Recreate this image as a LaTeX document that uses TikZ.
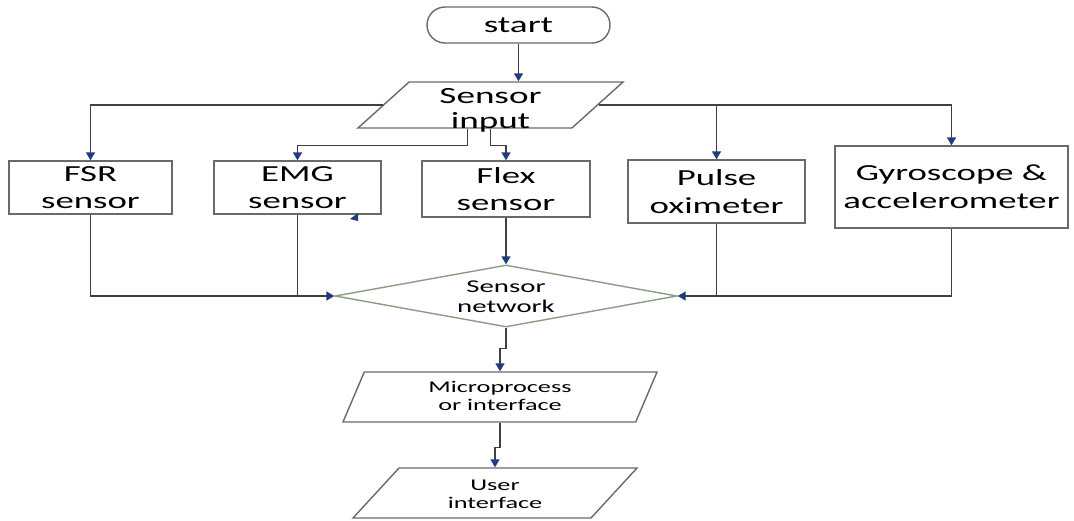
\documentclass[tikz,border=0pt]{standalone}
\usepackage{fontspec}
\setmainfont{Carlito}[FakeStretch=1.6]
\usetikzlibrary{shapes.geometric,arrows.meta}
\definecolor{navy}{HTML}{1F3C80}
\definecolor{linegray}{HTML}{404040}
\definecolor{boxgray}{HTML}{6A6A6A}
\definecolor{diagreen}{HTML}{8C9C84}
\begin{document}
\begin{tikzpicture}[x=0.5pt,y=-0.5pt,
	box/.style={draw=boxgray, line width=0.7pt, align=center, inner sep=0pt, font=\fontsize{11.5}{13.8}\selectfont},
	para/.style={box, trapezium, trapezium left angle=#1, trapezium right angle={180-#1}, trapezium stretches body},
	conn/.style={draw=linegray, line width=0.75pt, -{Triangle[length=4pt,width=4.5pt,color=navy]}},
	link/.style={draw=linegray, line width=0.75pt}]
	\useasboundingbox [fill=white] (0,0) rectangle (1074,520);
	% Shapes
	\node [box, rounded corners=9pt, minimum width=91.5pt, minimum height=18pt, font=\fontsize{11.6}{13}\selectfont] (start) at (518.5,25) {start};
	\node [para=42, minimum width=132.5pt, minimum height=23pt, text height=23pt, text depth=0pt, font=\fontsize{11.6}{12.5}\selectfont] (in) at (490.5,105) {Sensor\\input};
	\node [box, minimum width=81.5pt, minimum height=26.5pt] (fsr) at (90.5,187.5) {FSR\\sensor};
	\node [box, minimum width=83.5pt, minimum height=26.5pt] (emg) at (297.5,187.5) {EMG\\sensor};
	\node [box, minimum width=84pt, minimum height=28pt] (flex) at (506,189) {Flex\\sensor};
	\node [box, minimum width=88.5pt, minimum height=31.5pt] (pulse) at (716.5,191.5) {Pulse\\oximeter};
	\node [box, minimum width=116.5pt, minimum height=41pt] (gyro) at (951.5,187) {Gyroscope \&\\accelerometer};
	\node [box, draw=diagreen, diamond, aspect=5.5, minimum width=171pt, minimum height=31pt, text height=18pt, text depth=2pt, font=\fontsize{9}{10}\selectfont] (net) at (506,296) {Sensor\\network};
	\node [para=62, minimum width=157pt, minimum height=25pt, text height=16.5pt, text depth=3.5pt, font=\fontsize{8.2}{9}\selectfont] (micro) at (500,397) {Microprocess\\or interface};
	\node [para=41, minimum width=142pt, minimum height=25pt, text height=17.5pt, text depth=2.5pt, font=\fontsize{8.2}{9}\selectfont] (user) at (495,493) {User\\interface};
	% Inputs
	\draw [conn] (start.south) -- (start.south |- in.north);
	\draw [conn] (in.west) -| (fsr.north);
	\draw [conn] (in.east) -| (gyro.north);
	\draw [conn] (in.east -| pulse.north) -- (pulse.north);
	\draw [conn] ([xshift=-11.5pt]in.south) -- ++(0,17) -| (emg.north);
	\draw [conn] (in.south) -- ++(0,17) -| (flex.north);
	% To the network
	\draw [conn] (fsr.south) |- (net.west);
	\draw [link] (emg.south) -- (emg.south |- net.west);
	\draw [conn] (gyro.south) |- (net.east);
	\draw [link] (pulse.south) -- (pulse.south |- net.east);
	\draw [conn] (flex.south) -- (net.north);
	% Output
	\draw [conn] (net.south) -- ++(0,21) -| (micro.north);
	\draw [conn] (micro.south) -- ++(0,25) -| (user.north);
	\fill [navy] (350,219) -- (358,213) -- (358,221) -- cycle;
\end{tikzpicture}
\end{document}
